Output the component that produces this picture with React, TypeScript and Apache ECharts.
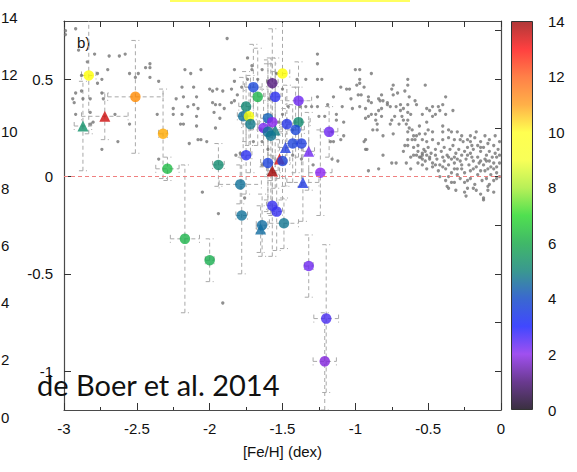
import { useEffect, useRef } from "react";
import * as echarts from "echarts";

// Field stars: [Fe/H], [alpha/Fe]
const fieldStars: number[][] = [
  [-2.99,0.75],[-2.99,0.73],[-2.92,0.76],[-2.90,0.65],[-2.84,0.59],[-2.79,0.63],[-2.69,0.62],[-2.62,0.62],[-2.58,0.63],[-2.70,0.55],
  [-2.55,0.53],[-2.51,0.51],[-2.49,0.53],[-2.44,0.56],[-2.41,0.56],[-2.41,0.58],[-2.41,0.51],[-2.35,0.49],[-2.88,0.52],[-2.77,0.53],
  [-2.74,0.50],[-2.77,0.48],[-2.92,0.43],[-2.88,0.44],[-2.74,0.43],[-2.94,0.40],[-2.93,0.38],[-2.87,0.40],[-2.82,0.40],[-2.73,0.40],
  [-2.92,0.32],[-2.82,0.33],[-2.80,0.28],[-2.82,0.27],[-2.65,0.32],[-2.55,0.27],[-2.63,0.18],[-2.74,0.14],[-2.36,0.32],[-2.35,0.09],
  [-2.17,0.55],[-2.13,0.53],[-2.06,0.55],[-2.19,0.46],[-2.11,0.46],[-2.23,0.40],[-2.18,0.41],[-2.09,0.41],[-2.25,0.35],[-2.15,0.36],
  [-2.11,0.37],[-2.08,0.35],[-2.25,0.32],[-2.19,0.32],[-2.09,0.31],[-2.20,0.27],[-2.18,0.27],[-2.09,0.26],[-2.14,0.17],[-2.08,0.19],
  [-2.00,0.45],
  [-1.88,0.71],[-1.83,0.55],[-1.74,0.61],[-1.71,0.57],[-1.71,0.55],[-1.64,0.55],[-1.74,0.50],[-1.83,0.49],[-1.98,0.44],[-1.95,0.45],
  [-1.91,0.44],[-1.85,0.45],[-1.78,0.46],[-1.98,0.38],[-1.96,0.37],[-1.93,0.37],[-1.90,0.35],[-1.85,0.38],[-1.83,0.39],[-1.81,0.42],
  [-1.97,0.33],[-1.93,0.30],[-1.96,0.25],[-2.06,0.19],[-2.02,0.18],[-1.82,0.11],[-1.79,0.12],[-1.64,0.18],[-1.60,0.14],[-1.54,0.53],
  [-1.60,0.49],[-1.50,0.45],[-1.40,0.50],[-1.34,0.50],[-1.26,0.63],[-1.26,0.58],[-1.26,0.50],[-1.23,0.50],[-1.26,0.41],[-1.26,0.36],
  [-1.30,0.36],[-1.25,0.31],[-1.21,0.31],[-1.19,0.37],[-1.15,0.41],[-1.10,0.46],[-1.06,0.45],[-1.09,0.36],[-1.13,0.32],[-1.13,0.29],
  [-1.08,0.28],[-1.08,0.21],[-1.17,0.18],[-1.15,0.18],[-1.16,0.09],[-1.29,0.06],[-1.34,0.36],[-1.46,0.36],[-1.50,0.32],[-1.53,0.28],
  [-1.38,0.36],[-1.70,0.18],[-1.64,0.06],[-1.37,0.09],[-1.43,0.11],[-1.67,0.50],[-1.65,0.24],[-1.43,0.24],[-1.59,0.40],
  [-1.00,0.55],[-0.97,0.55],[-0.89,0.53],[-0.97,0.50],[-0.97,0.48],[-0.99,0.47],[-1.04,0.45],[-0.94,0.46],[-0.98,0.42],[-0.96,0.42],
  [-1.03,0.40],[-1.02,0.35],[-0.97,0.36],[-0.93,0.35],[-0.91,0.41],[-0.91,0.39],[-0.89,0.38],[-0.93,0.30],[-0.91,0.31],[-0.89,0.32],
  [-0.86,0.32],[-0.84,0.34],[-0.82,0.35],[-0.83,0.39],[-0.82,0.42],[-0.84,0.40],[-0.81,0.39],[-0.78,0.38],[-0.75,0.45],[-0.74,0.47],
  [-0.74,0.42],[-0.71,0.43],[-0.78,0.37],[-0.76,0.36],[-0.72,0.36],[-0.82,0.31],[-0.86,0.29],[-0.85,0.27],[-0.88,0.24],[-0.85,0.24],
  [-0.75,0.29],[-0.76,0.27],[-0.73,0.31],[-0.74,0.22],[-0.81,0.21],[-0.69,0.37],[-0.67,0.35],[-0.69,0.34],[-0.68,0.31],[-0.67,0.29],
  [-0.70,0.27],[-0.66,0.44],[-0.64,0.50],[-0.64,0.47],[-0.63,0.41],[-0.59,0.39],[-0.58,0.37],[-0.64,0.37],[-0.64,0.33],[-0.62,0.32],
  [-0.64,0.29],[-0.65,0.27],[-0.63,0.25],[-0.61,0.24],[-0.64,0.23],[-0.60,0.21],[-0.58,0.21],[-0.56,0.22],[-0.52,0.22],[-0.50,0.24],
  [-0.54,0.32],[-0.52,0.47],[-0.51,0.35],[-0.94,0.18],[-0.93,0.14],[-0.92,0.14],[-0.66,0.16],[-0.64,0.16],[-0.67,0.13],[-0.60,0.15],
  [-0.57,0.16],[-0.57,0.13],[-0.54,0.12],[-0.52,0.13],[-0.51,0.11],[-0.58,0.11],[-0.56,0.10],[-0.54,0.09],[-0.57,0.07],[-0.54,0.06],
  [-0.60,0.11],[-0.62,0.10],[-0.65,0.07],[-0.62,0.04],[-0.72,0.07],[-0.75,0.07],[-0.81,0.11],[-0.91,0.03],[-0.84,0.04],[-1.10,0.19],
  [-0.64,0.19],[-0.61,0.19],[-0.59,0.19],[-0.54,0.19],[-1.16,0.23],[-1.12,0.08],[-0.93,0.19],
  [-0.38,0.41],[-0.40,0.37],[-0.43,0.36],[-0.47,0.36],[-0.33,0.34],[-0.49,0.34],[-0.45,0.32],[-0.47,0.31],[-0.42,0.34],[-0.38,0.32],
  [-0.51,0.28],[-0.56,0.26],[-0.40,0.26],[-0.40,0.23],[-0.36,0.24],[-0.34,0.23],[-0.30,0.23],[-0.28,0.19],[-0.23,0.19],[-0.21,0.18],
  [-0.17,0.23],[-0.47,0.23],
  [-0.53,0.14],[-0.50,0.15],[-0.48,0.12],[-0.45,0.14],[-0.43,0.17],[-0.41,0.13],[-0.39,0.15],[-0.37,0.11],[-0.35,0.14],[-0.33,0.16],
  [-0.31,0.12],[-0.29,0.14],[-0.27,0.11],[-0.25,0.13],[-0.23,0.15],[-0.21,0.12],[-0.19,0.14],[-0.16,0.10],[-0.14,0.13],[-0.12,0.15],
  [-0.10,0.11],[-0.08,0.13],[-0.06,0.10],[-0.04,0.12],[-0.02,0.14],[-0.01,0.11],
  [-0.55,0.10],[-0.52,0.08],[-0.49,0.10],[-0.47,0.07],[-0.44,0.09],[-0.42,0.06],[-0.39,0.08],[-0.36,0.06],[-0.34,0.09],[-0.32,0.07],
  [-0.30,0.09],[-0.27,0.06],[-0.24,0.09],[-0.22,0.06],[-0.19,0.08],[-0.17,0.05],[-0.14,0.08],[-0.12,0.06],[-0.10,0.08],[-0.07,0.05],
  [-0.05,0.07],[-0.03,0.05],[-0.01,0.07],
  [-0.51,0.04],[-0.47,0.05],[-0.43,0.03],[-0.38,0.04],[-0.34,0.02],[-0.30,0.04],[-0.25,0.02],[-0.21,0.03],[-0.16,0.01],[-0.11,0.03],
  [-0.07,0.01],[-0.03,0.02],
  [-0.38,-0.02],[-0.34,-0.03],[-0.28,-0.01],[-0.23,-0.02],[-0.18,-0.04],[-0.13,-0.02],[-0.08,-0.04],[-0.03,-0.01],
  [-0.36,-0.06],[-0.31,-0.07],[-0.25,-0.08],[-0.19,-0.06],[-0.14,-0.09],[-0.09,-0.07],[-0.24,-0.10],[-0.12,-0.12],[-0.05,-0.08],
  [-0.18,0.20],[-0.14,0.18],[-0.11,0.21],[-0.08,0.19],[-0.04,0.21],[-0.01,0.18],[-0.16,0.16],[-0.21,0.21],[-0.26,0.18],
  [-0.37,-0.05],[-0.32,-0.03],[-0.23,-0.06],[-0.17,-0.07],[-0.09,-0.05],[-0.12,-0.11],
  [-0.51,0.18],[-0.47,0.19],[-0.40,0.19],[-0.36,0.20],[-0.32,0.19],[-0.27,0.21],[-0.20,0.16],[-0.14,0.15],[-0.09,0.17],[-0.05,0.16],
  [-0.54,0.11],[-0.49,0.09],[-0.45,0.11],[-0.40,0.10],[-0.36,0.10],[-0.32,0.10],[-0.28,0.08],[-0.23,0.11],[-0.20,0.10],[-0.15,0.07],
  [-0.11,0.09],[-0.08,0.08],[-0.03,0.10],
  [-0.45,0.06],[-0.40,0.05],[-0.32,0.04],[-0.27,0.04],[-0.19,0.04],[-0.14,0.03],[-0.09,0.04],[-0.05,0.04],
  [-0.42,0.00],[-0.36,0.00],[-0.30,0.01],[-0.25,-0.03],[-0.21,-0.01],[-0.10,-0.01],[-0.05,-0.02],[-0.01,0.00],
  [-2.05,-0.08],[-1.76,-0.11],[-1.94,-0.19],[-1.91,-0.65],
];

// Globular clusters drawn as circles: [Fe/H], [alpha/Fe], err [Fe/H], err [alpha/Fe], age (Gyr)
const clusterCircles: number[][] = [
  [-2.83, 0.52, 0.05, 0.30, 10.0],
  [-2.51, 0.41, 0.19, 0.29, 11.4],
  [-2.32, 0.22, 0.03, 0.23, 10.9],
  [-2.29, 0.04, 0.08, 0.06, 6.8],
  [-1.94, 0.06, 0.04, 0.11, 5.3],
  [-2.17, -0.32, 0.10, 0.38, 6.6],
  [-2.00, -0.43, 0.03, 0.11, 6.4],
  [-1.50, 0.53, 0.05, 0.30, 10.0],
  [-1.57, 0.48, 0.04, 0.28, 0.9],
  [-1.70, 0.46, 0.06, 0.22, 3.6],
  [-1.67, 0.41, 0.05, 0.25, 6.6],
  [-1.55, 0.41, 0.04, 0.20, 3.0],
  [-1.39, 0.39, 0.09, 0.20, 2.3],
  [-1.75, 0.36, 0.05, 0.18, 5.2],
  [-1.77, 0.31, 0.04, 0.20, 4.6],
  [-1.73, 0.31, 0.05, 0.15, 9.8],
  [-1.72, 0.27, 0.06, 0.25, 4.8],
  [-1.60, 0.30, 0.05, 0.30, 4.2],
  [-1.57, 0.28, 0.05, 0.30, 2.0],
  [-1.63, 0.25, 0.04, 0.20, 2.2],
  [-1.60, 0.23, 0.04, 0.35, 4.6],
  [-1.58, 0.21, 0.05, 0.40, 4.7],
  [-1.47, 0.27, 0.05, 0.20, 3.2],
  [-1.39, 0.28, 0.08, 0.18, 5.3],
  [-1.41, 0.24, 0.06, 0.22, 3.6],
  [-1.18, 0.23, 0.06, 0.13, 2.3],
  [-1.43, 0.17, 0.05, 0.20, 3.5],
  [-1.37, 0.17, 0.05, 0.22, 3.4],
  [-1.75, 0.11, 0.04, 0.20, 3.0],
  [-1.60, 0.07, 0.05, 0.25, 3.5],
  [-1.50, 0.08, 0.05, 0.20, 3.5],
  [-1.24, 0.02, 0.08, 0.22, 2.0],
  [-1.79, -0.04, 0.145, 0.10, 4.6],
  [-1.78, -0.20, 0.04, 0.30, 4.6],
  [-1.57, -0.15, 0.04, 0.26, 2.9],
  [-1.54, -0.18, 0.04, 0.20, 2.9],
  [-1.64, -0.25, 0.04, 0.16, 4.5],
  [-1.49, -0.24, 0.10, 0.13, 4.7],
  [-1.32, -0.46, 0.03, 0.16, 2.3],
  [-1.20, -0.73, 0.085, 0.38, 2.7],
  [-1.21, -0.95, 0.08, 0.25, 1.8],
];

// Globular clusters drawn as triangles
const clusterTriangles: number[][] = [
  [-2.87, 0.26, 0.06, 0.23, 5.5],
  [-2.72, 0.31, 0.16, 0.12, 13.3],
  [-1.55, 0.24, 0.04, 0.30, 4.9],
  [-1.48, 0.15, 0.05, 0.20, 3.4],
  [-1.32, 0.13, 0.04, 0.20, 2.3],
  [-1.52, 0.09, 0.04, 0.10, 13.0],
  [-1.57, 0.03, 0.04, 0.23, 14.0],
  [-1.36, -0.03, 0.11, 0.20, 3.3],
  [-1.65, -0.27, 0.03, 0.12, 4.5],
];

const alphaTicks = [-1, -0.5, 0, 0.5];
const alphaMinorTicks = [-0.75, -0.25, 0.25, 0.75];
const alphaFrameTicks = [-1, -0.75, -0.5, -0.25, 0, 0.25, 0.5, 0.75];
const ageMin = 0;
const ageMax = 14;

// marker colours for age 0..14 Gyr
const markerPalette = [
  "#2a1838", "#5a1a88", "#8a22f0", "#2a2ef0", "#1058c8", "#0e8078", "#10a058",
  "#22c040", "#88e020", "#d8f010", "#ffff00", "#ffa000", "#ff6a00", "#e01010", "#a00000",
];
// colour-bar shading for age 0..14 Gyr
const barPalette = [
  "#3a3040", "#6a3a90", "#a050f0", "#4048ff", "#3a68d0", "#3a9890", "#40b868",
  "#50e050", "#b8f058", "#f8ff58", "#ffff50", "#ffb048", "#ff8048", "#ff4040", "#b03838",
];

const FONT = "Liberation Sans, Arial, Helvetica, sans-serif";

function errorBarItem(_params: any, api: any) {
  const x = api.value(0);
  const y = api.value(1);
  const ex = api.value(2);
  const ey = api.value(3);
  const l = api.coord([x - ex, y]);
  const r = api.coord([x + ex, y]);
  const b = api.coord([x, y - ey]);
  const t = api.coord([x, y + ey]);
  const cap = 4;
  const style = { stroke: "#a9a9a9", lineWidth: 1, lineDash: [4, 3], fill: null };
  const seg = (x1: number, y1: number, x2: number, y2: number) => ({
    type: "line",
    shape: { x1, y1, x2, y2 },
    style,
  });
  return {
    type: "group",
    children: [
      seg(b[0], b[1], t[0], t[1]),
      seg(b[0] - cap, b[1], b[0] + cap, b[1]),
      seg(t[0] - cap, t[1], t[0] + cap, t[1]),
      seg(l[0], l[1], r[0], r[1]),
      seg(l[0], l[1] - cap, l[0], l[1] + cap),
      seg(r[0], r[1] - cap, r[0], r[1] + cap),
    ],
  };
}

export default function App() {
  const ref = useRef<HTMLDivElement>(null);

  useEffect(() => {
    if (!ref.current) return;
    const chart = echarts.init(ref.current, null, { renderer: "svg" });

    const frameLine = { show: true, onZero: false, lineStyle: { color: "#4a4a4a", width: 1.2 } };
    const gradient = new echarts.graphic.LinearGradient(
      0, 1, 0, 0,
      barPalette.map((c, i) => ({ offset: i / (barPalette.length - 1), color: c }))
    );
    const allClusters = [...clusterTriangles, ...clusterCircles];

    chart.setOption({
      animation: false,
      textStyle: { fontFamily: FONT },
      grid: [
        { left: 64, top: 21, width: 437, height: 389 },
        { left: 511, top: 21, width: 22, height: 389 },
        { left: 9, top: 17, width: 2, height: 400 },
      ],
      xAxis: [
        {
          type: "value", gridIndex: 0, min: -3, max: 0, interval: 0.5,
          axisLine: frameLine,
          axisTick: { inside: true, length: 7, lineStyle: { color: "#333" } },
          minorTick: { show: true, splitNumber: 2, length: 3, lineStyle: { color: "#333" } },
          splitLine: { show: false },
          axisLabel: { margin: 11, fontSize: 15, color: "#111", fontFamily: FONT },
          name: "[Fe/H] (dex)", nameLocation: "middle", nameGap: 34,
          nameTextStyle: { fontSize: 15, color: "#111", fontFamily: FONT },
        },
        {
          type: "value", gridIndex: 0, position: "top", min: -3, max: 0, interval: 0.25,
          axisLine: frameLine,
          axisTick: { inside: true, length: 6, lineStyle: { color: "#333" } },
          axisLabel: { show: false }, splitLine: { show: false },
        },
        {
          type: "category", gridIndex: 1, data: ["age"], show: false,
        },
        { type: "value", gridIndex: 2, show: false, min: 0, max: 1 },
      ],
      yAxis: [
        {
          type: "value", gridIndex: 0, min: -1.2, max: 0.8,
          axisLine: frameLine,
          axisTick: { inside: true, length: 7, customValues: alphaTicks, lineStyle: { color: "#333" } },
          axisLabel: { customValues: alphaTicks, margin: 11, fontSize: 15, color: "#111", fontFamily: FONT },
          splitLine: { show: false },
        },
        {
          type: "value", gridIndex: 0, min: -1.2, max: 0.8,
          axisLine: { show: false, onZero: false },
          axisTick: { inside: true, length: 3, customValues: alphaMinorTicks, lineStyle: { color: "#333" } },
          axisLabel: { show: false }, splitLine: { show: false },
        },
        {
          type: "value", gridIndex: 0, position: "right", min: -1.2, max: 0.8,
          axisLine: frameLine,
          axisTick: { inside: true, length: 6, customValues: alphaFrameTicks, lineStyle: { color: "#333" } },
          axisLabel: { show: false }, splitLine: { show: false },
        },
        {
          type: "value", gridIndex: 1, position: "right", min: ageMin, max: ageMax, interval: 2, z: 10,
          axisLine: { show: false },
          axisTick: { inside: true, length: 5, lineStyle: { color: "#111", width: 1.2 } },
          axisLabel: { margin: 15, fontSize: 15, color: "#111", fontFamily: FONT },
          splitLine: { show: false },
        },
        {
          type: "value", gridIndex: 1, position: "left", min: ageMin, max: ageMax, interval: 2, z: 10,
          axisLine: { show: false },
          axisTick: { inside: true, length: 5, lineStyle: { color: "#111", width: 1.2 } },
          axisLabel: { show: false }, splitLine: { show: false },
        },
        {
          type: "value", gridIndex: 2, min: ageMin, max: ageMax, interval: 2,
          axisLine: { show: false }, axisTick: { show: false }, splitLine: { show: false },
          axisLabel: { align: "left", margin: 10, fontSize: 15, color: "#111", fontFamily: FONT },
        },
      ],
      visualMap: {
        show: false, type: "continuous", min: ageMin, max: ageMax, dimension: 2,
        seriesIndex: [2, 3], inRange: { color: markerPalette },
      },
      series: [
        {
          type: "scatter", xAxisIndex: 0, yAxisIndex: 0, symbolSize: 3.3,
          itemStyle: { color: "#737373" }, data: fieldStars, silent: true,
          markLine: {
            silent: true, symbol: ["none", "none"], label: { show: false },
            lineStyle: { color: "#f08080", type: [4, 3], width: 1 },
            data: [{ yAxis: 0 }],
          },
        },
        {
          type: "custom", xAxisIndex: 0, yAxisIndex: 0, clip: true, silent: true,
          renderItem: errorBarItem, encode: { x: 0, y: 1 },
          data: allClusters.map((r) => [r[0], r[1], r[2], r[3]]),
        },
        {
          type: "scatter", xAxisIndex: 0, yAxisIndex: 0, symbol: "triangle", symbolSize: 11,
          data: clusterTriangles.map((r) => [r[0], r[1], r[4]]),
        },
        {
          type: "scatter", xAxisIndex: 0, yAxisIndex: 0, symbol: "circle", symbolSize: 10.5,
          data: clusterCircles.map((r) => [r[0], r[1], r[4]]),
        },
        {
          type: "bar", xAxisIndex: 2, yAxisIndex: 3, barWidth: "100%", silent: true,
          itemStyle: { color: gradient, borderColor: "#333", borderWidth: 1 },
          data: [ageMax],
        },
      ],
      graphic: [
        { type: "rect", shape: { x: 170, y: 0, width: 240, height: 2 }, style: { fill: "#ffff60" } },
        {
          type: "text", x: 77, y: 42,
          style: { text: "b)", fontSize: 15, fill: "#111", fontFamily: FONT, verticalAlign: "middle" },
        },
        {
          type: "text", x: 37, y: 384, z: 100,
          style: { text: "de Boer et al. 2014", fontSize: 29, fill: "#111", fontFamily: "Lato, sans-serif", verticalAlign: "middle" },
        },
      ],
    });

    return () => chart.dispose();
  }, []);

  return (
    <div
      ref={ref}
      style={{ position: "absolute", left: 0, top: 0, width: 577, height: 472, background: "#fff" }}
    />
  );
}
